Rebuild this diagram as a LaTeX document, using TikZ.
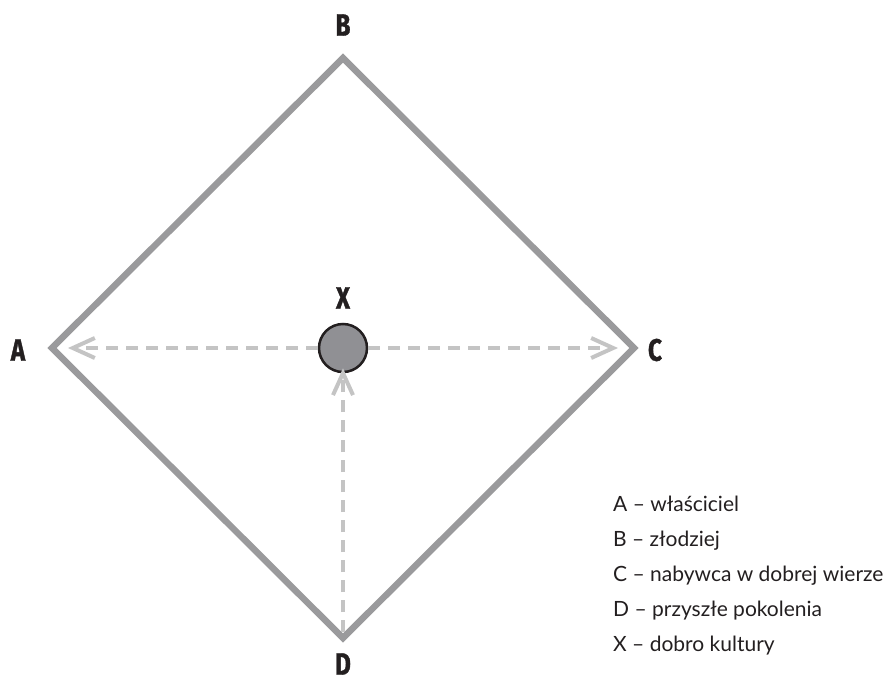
\documentclass[tikz,border=0pt]{standalone}
\usepackage{fontspec}
\setmainfont{Lato}
\newfontfamily\lblfont[FakeStretch=0.78,FakeBold=1.2]{Fira Sans}
\usetikzlibrary{arrows.meta}
\definecolor{edgegray}{HTML}{9A9A9C}
\definecolor{dashgray}{HTML}{C4C4C4}
\definecolor{dotgray}{HTML}{909094}
\definecolor{txt}{HTML}{231F20}
\tikzset{
  edgeline/.style={draw=edgegray, line width=6.5pt, line join=miter},
  flowline/.style={draw=dashgray, line width=4pt, dash pattern=on 12pt off 8pt,
    -{Straight Barb[length=22pt, width=20pt, line width=4pt]}},
  vlabel/.style={font=\lblfont\bfseries\fontsize{31}{31}\selectfont, text=txt, inner sep=0pt},
  legend/.style={font=\fontsize{21}{21}\selectfont, text=txt, anchor=base west, inner sep=0pt}
}
\begin{document}
\begin{tikzpicture}[x=1pt, y=-1pt]
\useasboundingbox (0,0) rectangle (887,680);
\coordinate (pA) at (52,348);
\coordinate (pB) at (343,58);
\coordinate (pC) at (634,348);
\coordinate (pD) at (343,638);
\draw[edgeline] (pA) -- (pB) -- (pC) -- (pD) -- cycle;
\coordinate (tA) at (68,348);
\coordinate (tC) at (618,348);
\coordinate (sD) at (343,632);
\node[circle, draw=txt, fill=dotgray, line width=2.5pt, minimum size=48pt, inner sep=0pt] (X) at (343,348) {};
\draw[flowline] (X.west) -- (tA);
\draw[flowline] (X.east) -- (tC);
\draw[flowline] (sD) -- ([yshift=5pt]X.south);
\node[vlabel] (lB) at (343,25) {B};
\node[vlabel] (lX) at (343,298) {X};
\node[vlabel] (lA) at (18,350) {A};
\node[vlabel] (lC) at (655,350) {C};
\node[vlabel] (lD) at (343,664) {D};
\node[legend] (g1) at (613,511) {A – właściciel};
\node[legend] (g2) at (613,546) {B – złodziej};
\node[legend] (g3) at (613,581) {C – nabywca w dobrej wierze};
\node[legend] (g4) at (613,616) {D – przyszłe pokolenia};
\node[legend] (g5) at (613,651) {X – dobro kultury};
\end{tikzpicture}
\end{document}
